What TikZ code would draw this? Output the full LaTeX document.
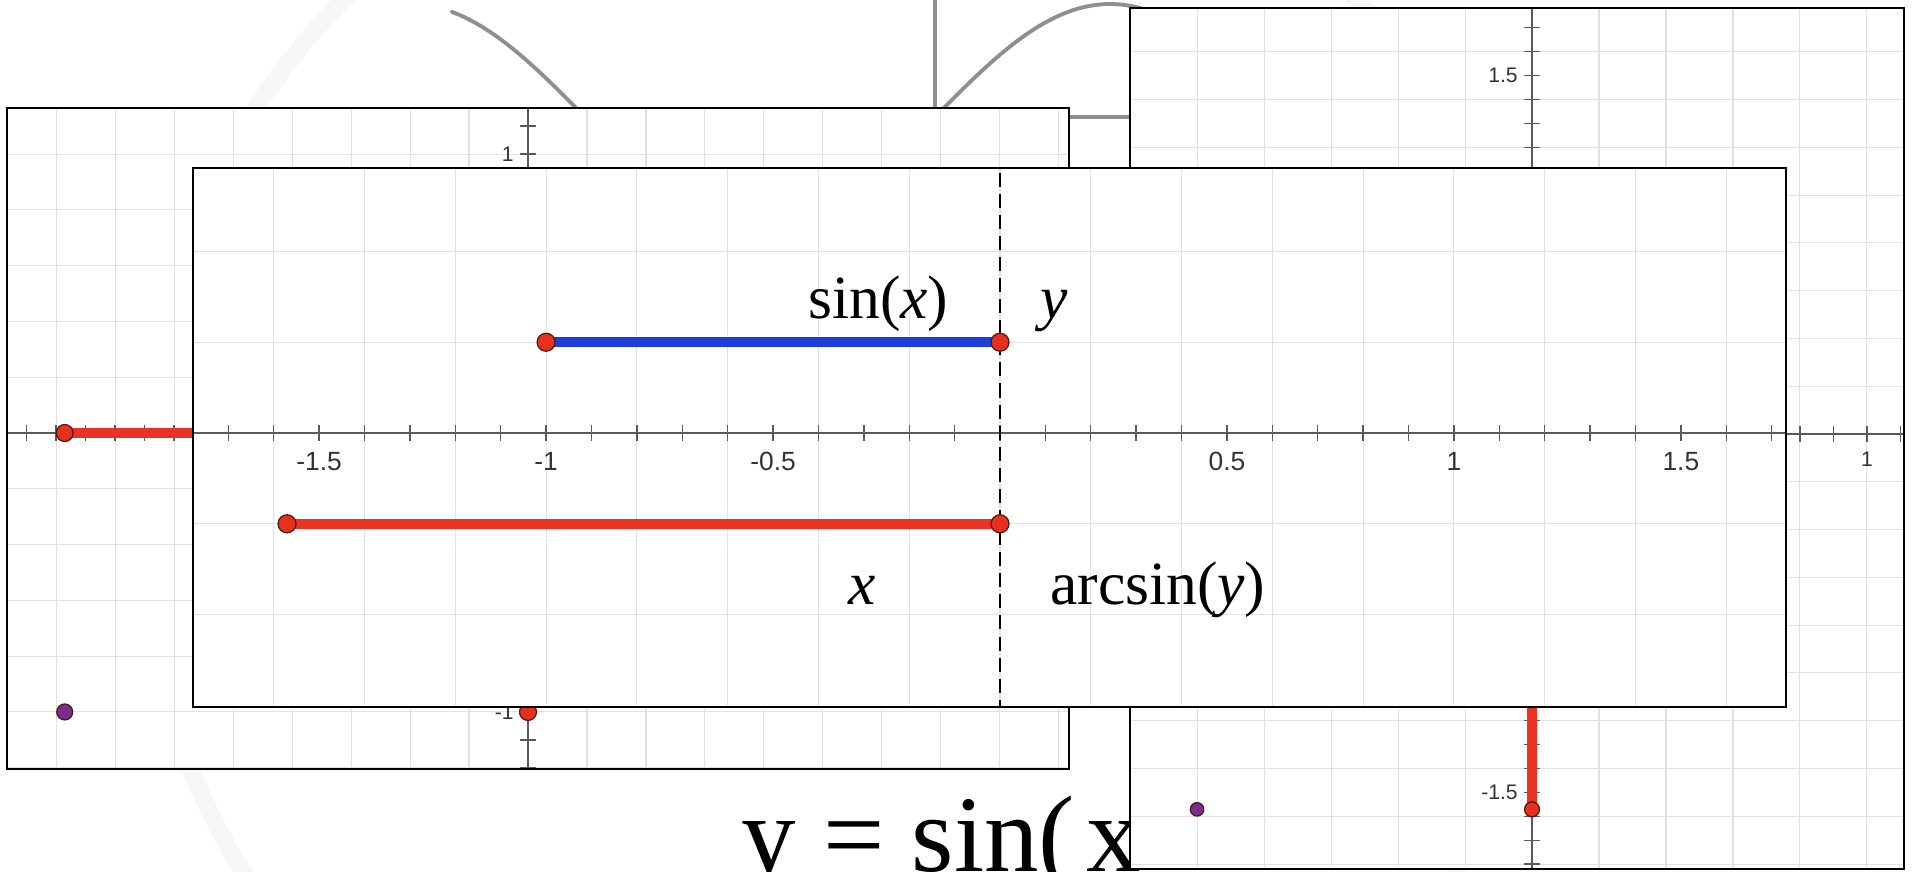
\documentclass[tikz,border=0pt]{standalone}
\usepackage{fontspec}
\setmainfont{Liberation Serif}
\newfontfamily\tickfont{Liberation Sans}
\usetikzlibrary{calc}
\definecolor{SegRed} {HTML}{EA3323}
\definecolor{SegBlue}{HTML}{1C3FDB}
\definecolor{DotRed} {HTML}{E8301E}
\definecolor{DotRim} {HTML}{4A1A12}
\definecolor{DotPurp}{HTML}{7B2C8C}
\definecolor{GridG}  {HTML}{E2E2E2}
\definecolor{AxisG}  {HTML}{5A5A5A}
\definecolor{BgCurve}{HTML}{8F8F8F}
\definecolor{BgArc}  {HTML}{F7F7F7}
\tikzset{
  pnl/.style={draw=black, fill=white, line width=1.5pt},
  grd/.style={draw=GridG, line width=0.6pt},
  axs/.style={draw=AxisG, line width=0.8pt},
  seg/.style args={#1}{
    line width=5.6pt, color=#1,
  },
  dt/.style args={#1/#2}{
    circle, inner sep=0pt, minimum size=#2,
    fill=#1, draw=DotRim, line width=0.7pt,
  },
  tk/.style={
    font=\tickfont\fontsize{15}{15}\selectfont,
    text=black!80, inner sep=0pt,
  },
  stk/.style={
    font=\tickfont\fontsize{12}{12}\selectfont,
    text=black!80, inner sep=0pt,
  },
  lbl/.style={
    font=\fontsize{35}{35}\selectfont,
    inner sep=0pt, anchor=base west,
  },
}

\begin{document}
\begin{tikzpicture}[x=0.02cm, y=-0.02cm]
  \useasboundingbox (0,0) rectangle (1914,872);

  % slide behind the screenshots
  \draw[BgArc, line width=0.35cm] (850,500) circle (14.24cm);
  \draw[BgCurve, line width=2.2pt] (935,0) -- (935,300);
  \draw[BgCurve, line width=2.2pt] (600,117) -- (1300,117);
  \draw[BgCurve, line width=2.2pt, line cap=round, domain=-4.34:1.9, samples=90, smooth]
    plot ({935+111.4*\x}, {117-113*sin(\x r)});
  \node[font=\fontsize{62}{64}\selectfont, inner sep=0pt, anchor=base west]
    (eq) at (741,871) {y = sin(\hspace{0.1em}x};

  % left screenshot: graph of sin
  \draw[pnl] (7,108) rectangle (1069,769);
  \begin{scope}
    \clip (7,108) rectangle (1069,769);
    \begin{scope}[shift={(528,433)}, x=5.9cm, y=5.58cm]
      \foreach \i in {-9,...,9} \draw[grd] (\i/5,-1.3) -- (\i/5,1.3);
      \foreach \j in {-6,...,6} \draw[grd] (-1.9,\j/5) -- (1.9,\j/5);
      \draw[axs] (-1.9,0) -- (1.9,0);
      \draw[axs] (0,-1.3) -- (0,1.3);
      \foreach \i in {-18,...,18} \draw[axs] (\i/10,0) ++(0,-4.5pt) -- ++(0,9pt);
      \foreach \j in {-12,...,12} \draw[axs] (0,\j/10) ++(-4.5pt,0) -- ++(9pt,0);
      \coordinate (lA) at ({-pi/2},0);
      \coordinate (lO) at (0,0);
      \draw[seg=SegRed] (lA) -- (lO);
      \node[dt=DotRed/0.34cm]  (lAd) at (lA) {};
      \node[dt=DotRed/0.34cm]  (lBd) at (0,-1) {};
      \node[dt=DotPurp/0.32cm] (lPd) at ({-pi/2},-1) {};
      \node[stk, anchor=east, xshift=-8pt] (lone)  at (0,1)  {1};
      \node[stk, anchor=east, xshift=-8pt] (lmone) at (0,-1) {-1};
    \end{scope}
  \end{scope}
  \draw[pnl, fill=none] (7,108) rectangle (1069,769);

  % right screenshot: graph of arcsin
  \draw[pnl] (1130,8) rectangle (1904,869);
  \begin{scope}
    \clip (1130,8) rectangle (1904,869);
    \begin{scope}[shift={(1532,434)}, x=6.7cm, y=4.78cm]
      \foreach \i in {-6,...,6} \draw[grd] (\i/5,-1.9) -- (\i/5,1.9);
      \foreach \j in {-10,...,10} \draw[grd] (-1.3,\j/5) -- (1.2,\j/5);
      \draw[axs] (-1.3,0) -- (1.2,0);
      \draw[axs] (0,-1.9) -- (0,1.9);
      \foreach \i in {-13,...,12} \draw[axs] (\i/10,0) ++(0,-4.5pt) -- ++(0,9pt);
      \foreach \j in {-19,...,18} \draw[axs] (0,\j/10) ++(-4.5pt,0) -- ++(9pt,0);
      \coordinate (rA) at (0,{-pi/2});
      \coordinate (rO) at (0,0);
      \draw[seg=SegRed] (rA) -- (rO);
      \node[dt=DotRed/0.3cm]   (rAd) at (rA) {};
      \node[dt=DotPurp/0.27cm] (rPd) at (-1,{-pi/2}) {};
      \node[stk, anchor=east, xshift=-8pt]  (rtop) at (0,1.5)  {1.5};
      \node[stk, anchor=east, xshift=-8pt]  (rbot) at (0,-1.5) {-1.5};
      \node[stk, anchor=north, yshift=-10pt] (rone) at (1,0)    {1};
    \end{scope}
  \end{scope}
  \draw[pnl, fill=none] (1130,8) rectangle (1904,869);

  % front screenshot: the two intervals
  \draw[pnl] (193,168) rectangle (1786,707);
  \begin{scope}
    \clip (193,168) rectangle (1786,707);
    \begin{scope}[shift={(1000,433)}, x=9.08cm, y=9.08cm]
      \foreach \i in {-9,...,9} \draw[grd] (\i/5,-0.7) -- (\i/5,0.7);
      \foreach \j in {-2,...,2} \draw[grd] (-1.8,\j/5) -- (1.8,\j/5);
      \draw[axs] (-1.8,0) -- (1.8,0);
      \foreach \i in {-18,...,18} \draw[axs] (\i/10,0) ++(0,-4.5pt) -- ++(0,9pt);
      \foreach \v [count=\k] in {-1.5,-1,-0.5,0.5,1,1.5}
        \node[tk, yshift=-16pt] (fx\k) at (\v,0) {\v};
      \coordinate (top0) at (0,0.62);
      \coordinate (bot0) at (0,-0.62);
      \draw[line width=0.8pt, dash pattern=on 8pt off 4pt] (top0) -- (bot0);
      \coordinate (bL) at (-1,0.2);
      \coordinate (bR) at (0,0.2);
      \coordinate (aL) at ({-pi/2},-0.2);
      \coordinate (aR) at (0,-0.2);
      \draw[seg=SegBlue] (bL) -- (bR);
      \draw[seg=SegRed]  (aL) -- (aR);
      \node[dt=DotRed/0.36cm] (bLd) at (bL) {};
      \node[dt=DotRed/0.36cm] (bRd) at (bR) {};
      \node[dt=DotRed/0.36cm] (aLd) at (aL) {};
      \node[dt=DotRed/0.36cm] (aRd) at (aR) {};
    \end{scope}
  \end{scope}
  \draw[pnl, fill=none] (193,168) rectangle (1786,707);

  \node[lbl] (sinx) at (808,318)  {sin(\textit{x})};
  \node[lbl] (yv)   at (1040,318) {\textit{y}};
  \node[lbl] (xv)   at (848,604)  {\textit{x}};
  \node[lbl] (asin) at (1050,604) {arcsin(\textit{y})};
\end{tikzpicture}
\end{document}
